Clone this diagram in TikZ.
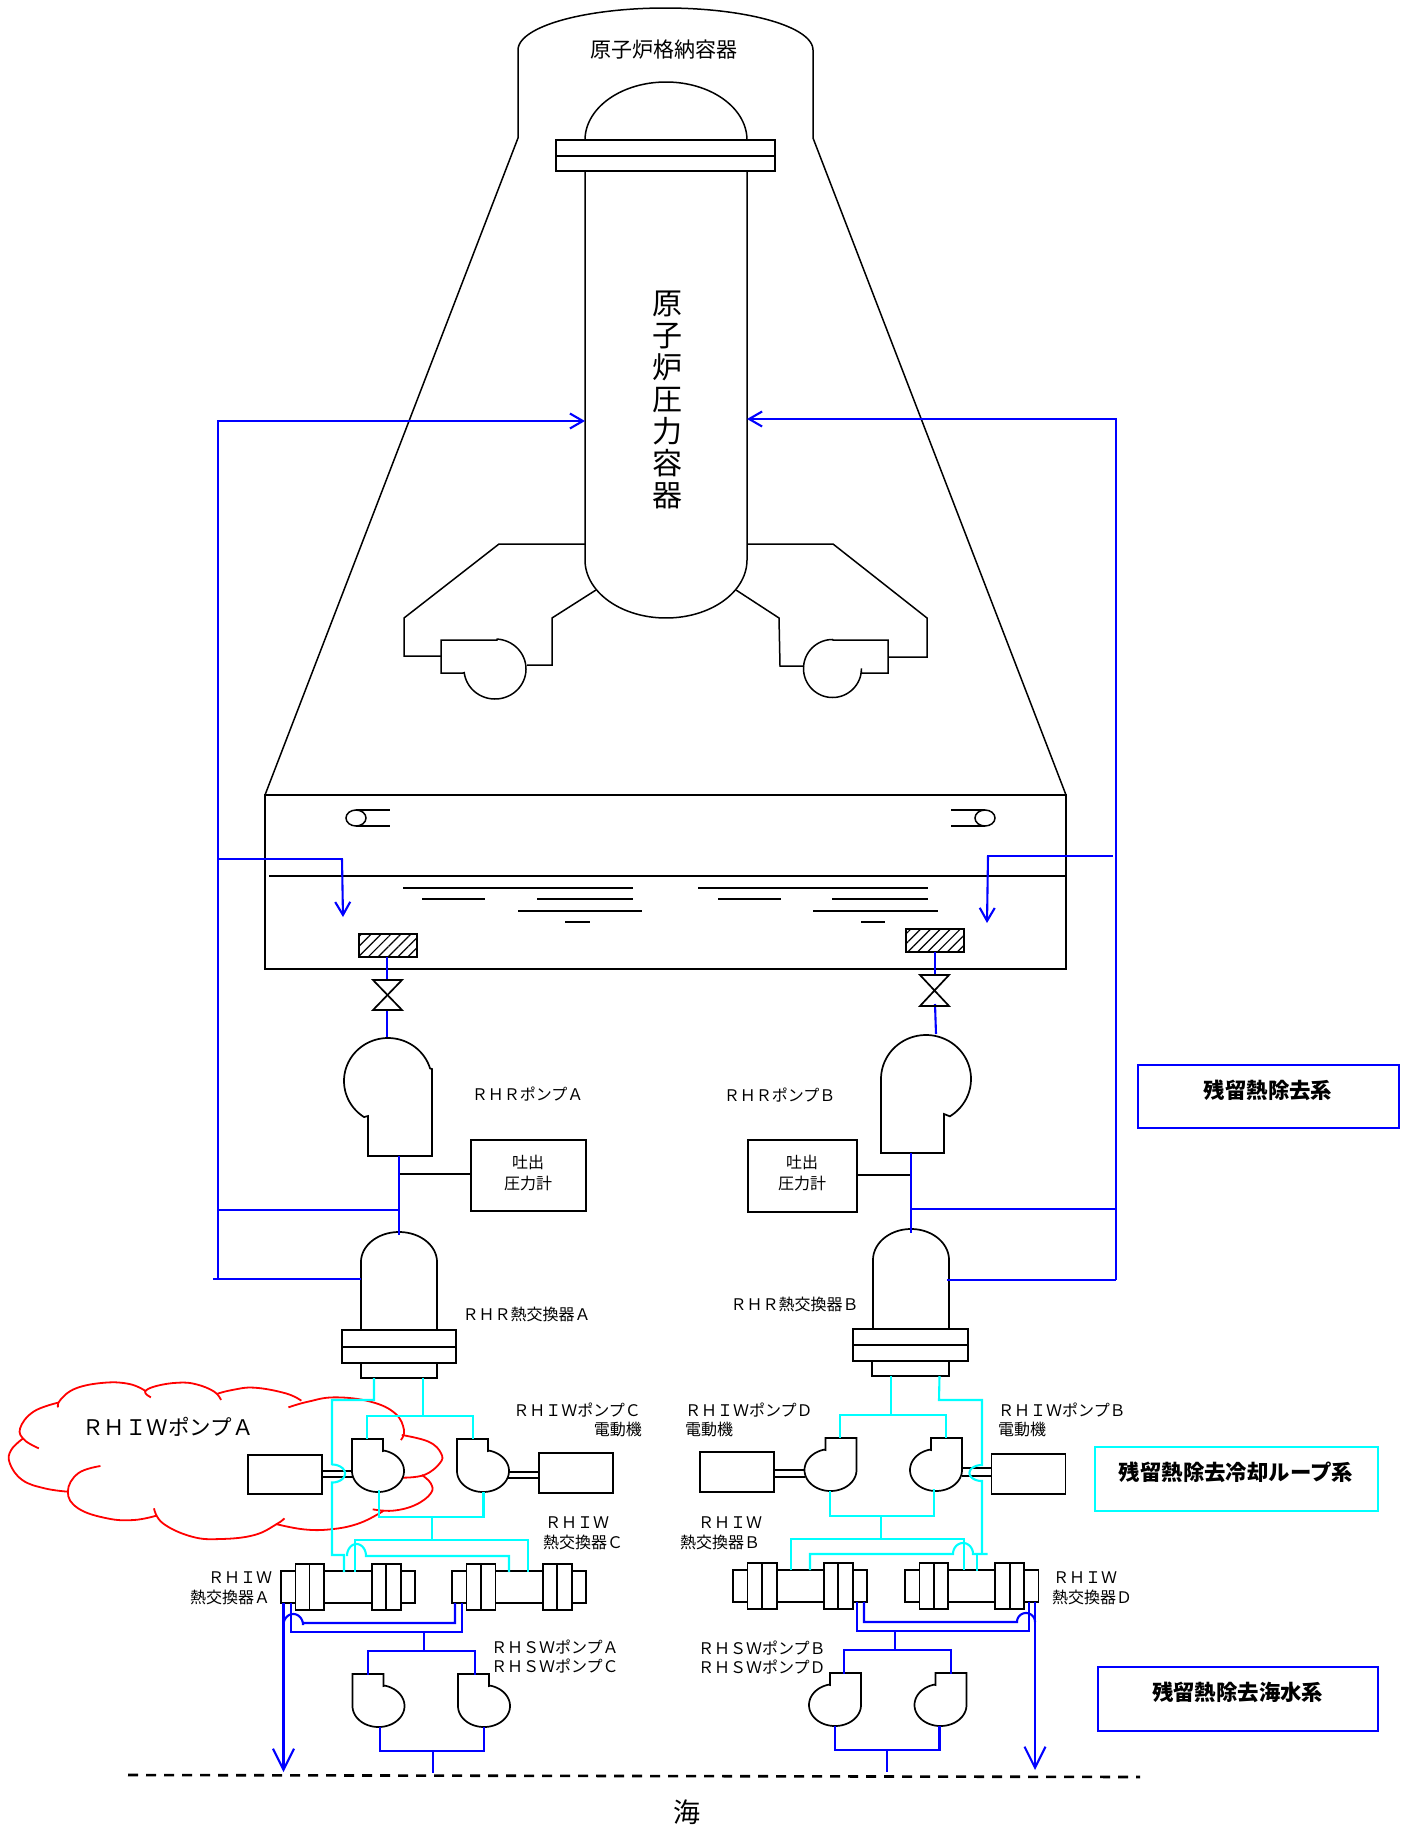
\documentclass[tikz,border=0pt]{standalone}
\usepackage{fontspec}
\setmainfont{Noto Sans CJK JP}
\usetikzlibrary{arrows.meta,patterns.meta}
\definecolor{pipeblue}{RGB}{0,0,255}
\definecolor{pipecyan}{RGB}{0,255,255}
\definecolor{cloudred}{RGB}{255,0,0}
\tikzset{
  blk/.style={draw=black,line width=1.7pt,line join=miter},
  thinblk/.style={draw=black,line width=1.5pt},
  bl/.style={draw=pipeblue,line width=2.1pt},
  cy/.style={draw=pipecyan,line width=2.1pt},
  cloudline/.style={draw=cloudred,line width=1.8pt},
  lbl/.style={inner sep=0pt,font=\fontsize{16}{18}\selectfont},
  lgd/.style={inner sep=0pt,font=\fontsize{21.4}{24}\selectfont\bfseries},
  boxnode/.style={draw=black,line width=1.7pt,inner sep=0pt,fill=white,align=center},
  tip1/.style={-{Straight Barb[length=13pt,width=15pt,line width=2.1pt]}},
  tip2/.style={-{Straight Barb[length=21pt,width=21pt,line width=2.1pt]}},
  % elliptical arcs, angles in picture convention (y grows downward)
  earc/.style n args={6}{insert path={-- plot[domain=#5:#6,samples=70,variable=\t] ({#1+#3*cos(\t)},{#2+#4*sin(\t)})}},
  earcstart/.style n args={6}{insert path={plot[domain=#5:#6,samples=70,variable=\t] ({#1+#3*cos(\t)},{#2+#4*sin(\t)})}},
}
% pump whose outlet rises on the left of the casing
\newcommand\pumpL[2]{\draw[blk] ({#1-26},{#2-32}) -- ({#1+5},{#2-32}) -- ({#1+5},{#2-20}) [earc={#1}{#2}{26}{21}{-76}{180}] -- cycle;}
% pump whose outlet rises on the right of the casing
\newcommand\pumpR[2]{\draw[blk] ({#1+26},{#2-32}) -- ({#1-5},{#2-32}) -- ({#1-5},{#2-20}) [earc={#1}{#2}{26}{21}{256}{0}] -- cycle;}
% heat exchanger: body l r t b, flanges
\newcommand\hex[9]{%
  \draw[blk] (#1,#3) rectangle (#2,#4);
  \draw[blk,fill=white] (#5,{#3-7}) rectangle (#7,{#4+7});
  \draw[blk] (#6,{#3-7}) -- (#6,{#4+7});
  \draw[blk,fill=white] (#8,{#3-7}) rectangle ({#8+29},{#4+7});
  \draw[blk] (#9,{#3-7}) -- (#9,{#4+7});}
\begin{document}
\begin{tikzpicture}[x=1pt,y=-1pt]
\useasboundingbox (0,0) rectangle (1407,1830);

% ---------- containment ----------
\draw[thinblk] (265,795) -- (518,138) -- (518,50) [earc={665.5}{50}{147.5}{42}{180}{360}] -- (813,138) -- (1066,795);
\draw[blk] (265,795) rectangle (1066,969);
\draw[blk] (269,876) -- (1066,876);
\foreach \a/\b/\c in {403/633/888,422/485/899,537/633/899,518/642/911,565/590/922,
                      698/928/888,718/781/899,832/928/899,813/938/911,861/885/922}
  \draw[thinblk] (\a,\c) -- (\b,\c);
\draw[thinblk] (356,818) ellipse [x radius=10pt,y radius=8pt];
\draw[thinblk] (356,810) -- (390,810) (356,826) -- (390,826);
\draw[thinblk] (985,818) ellipse [x radius=10pt,y radius=8pt];
\draw[thinblk] (951,810) -- (985,810) (951,826) -- (985,826);

% ---------- reactor vessel ----------
\draw[thinblk] [earcstart={666}{140}{81}{58}{180}{360}];
\draw[thinblk] (585,171) -- (585,560) [earc={666}{560}{81}{58}{180}{0}] -- (747,171);
\draw[thinblk] (556,140) rectangle (775,171);
\draw[thinblk] (556,156) -- (775,156);
\node[inner sep=0pt,font=\fontsize{21}{24}\selectfont] (pcvlabel) at (664,50) {原子炉格納容器};
\node[inner sep=0pt,align=center,font=\fontsize{30}{32}\selectfont] (rpvlabel) at (667,400) {原\\子\\炉\\圧\\力\\容\\器};

% recirculation loops
\draw[thinblk] (585,544) -- (499,544) -- (404,618) -- (404,656) -- (441,656);
\draw[thinblk] (596,590) -- (552,618) -- (552,665) -- (527,665);
\draw[thinblk] (441,640) -- (497,640) [earc={495}{669}{31}{30}{-86}{173}] -- (463,673) -- (441,673) -- cycle;
\draw[thinblk] (747,544) -- (833,544) -- (927,618) -- (927,657) -- (888,657);
\draw[thinblk] (736,590) -- (779,618) -- (780,666) -- (804,666);
\draw[thinblk] (888,640) -- (833,640) [earc={832.5}{668.5}{29}{29}{-90}{-360}] -- (861,673) -- (888,673) -- cycle;

% ---------- strainers and valves ----------
\draw[blk,pattern={Lines[angle=45,distance=7pt,line width=1.2pt]}] (359,934) rectangle (417,957);
\draw[blk,pattern={Lines[angle=45,distance=7pt,line width=1.2pt]}] (906,929) rectangle (964,952);
\draw[bl] (387,957) -- (387,981);
\draw[bl] (387,1009) -- (387,1038);
\draw[bl] (935,952) -- (935,976);
\draw[bl] (935,1004) -- (936,1034);
\draw[blk] (373,980) -- (402,980) -- (373,1010) -- (402,1010) -- cycle;
\draw[blk] (920,975) -- (949,975) -- (920,1006) -- (949,1006) -- cycle;

% ---------- RHR pumps ----------
\draw[blk] (432,1156) -- (432,1069) [earc={388}{1081}{44}{43}{-17}{-237}] -- (368,1116) -- (368,1156) -- cycle;
\draw[blk] (881,1153) -- (881,1083) [earc={926}{1079}{45}{44}{-180}{58}] -- (944,1114) -- (944,1153) -- cycle;

% ---------- gauges ----------
\node[boxnode,minimum width=115pt,minimum height=71pt] (gaugeA) at (528.5,1175.5) {};
\node[boxnode,minimum width=109pt,minimum height=72pt] (gaugeB) at (802.5,1176) {};
\node[inner sep=0pt,align=center,font=\fontsize{16}{20.5}\selectfont] (gaugeAt) at (528,1173) {吐出\\圧力計};
\node[inner sep=0pt,align=center,font=\fontsize{16}{20.5}\selectfont] (gaugeBt) at (802,1173) {吐出\\圧力計};
\coordinate (tapA) at (399,1174);
\coordinate (tapB) at (911,1175);
\draw[blk] (tapA) -- (gaugeA.west |- tapA);
\draw[blk] (tapB) -- (gaugeB.east |- tapB);

% ---------- RHR heat exchangers ----------
\draw[blk] (361,1330) -- (361,1262) [earc={399}{1262}{38}{30}{180}{360}] -- (437,1330);
\draw[blk] (342,1330) rectangle (456,1363);
\draw[blk] (342,1347) -- (456,1347);
\draw[blk] (361,1363) rectangle (437,1378);
\draw[blk] (873,1329) -- (873,1260) [earc={911}{1260}{38}{31}{180}{360}] -- (949,1329);
\draw[blk] (853,1329) rectangle (968,1361);
\draw[blk] (853,1345) -- (968,1345);
\draw[blk] (872,1361) rectangle (949,1376);

% ---------- main blue RHR lines ----------
\coordinate (rpvL) at (585,421);
\coordinate (rpvR) at (747,419);
\draw[bl,tip1] (218,1279) -- (218,421) -- (rpvL);
\draw[bl] (213,1279) -- (361,1279);
\draw[bl] (218,859) -- (343,859);
\draw[bl,tip1] (342,859) -- (343,917);
\draw[bl] (218,1210) -- (399,1210);
\draw[bl] (399,1156) -- (399,1235);
\draw[bl,tip1] (1116,1280) -- (1116,419) -- (rpvR);
\draw[bl] (947,1280) -- (1116,1280);
\draw[bl] (1113,856) -- (987,856);
\draw[bl,tip1] (988,856) -- (987,923);
\draw[bl] (911,1209) -- (1117,1209);
\draw[bl] (911,1153) -- (911,1233);

% ---------- cloud ----------
\begin{scope}[x=0.44643pt,y=-0.33333pt,yshift=-1350pt]
\draw[cloudline] plot[smooth,tension=.7] coordinates {(130,158)(75,185)(45,235)(55,270)(87,295)};
\draw[cloudline] plot[smooth,tension=.7] coordinates {(52,265)(25,300)(22,340)(50,390)(100,415)(152,425)};
\draw[cloudline] plot[smooth,tension=.7] coordinates {(225,348)(175,370)(152,425)(175,475)(240,505)(300,510)(350,497)};
\draw[cloudline] plot[smooth,tension=.7] coordinates {(345,475)(365,520)(430,560)(495,567)(570,555)(620,522)(637,505)};
\draw[cloudline] plot[smooth,tension=.7] coordinates {(618,522)(680,538)(740,538)(800,522)(850,490)(858,480)};
\draw[cloudline] plot[smooth,tension=.7] coordinates {(835,478)(880,482)(930,465)(965,430)(965,400)(945,375)};
\draw[cloudline] plot[smooth,tension=.7] coordinates {(902,383)(950,375)(985,340)(988,310)(960,275)(900,255)};
\draw[cloudline] plot[smooth,tension=.7] coordinates {(898,270)(905,240)(885,190)(830,155)(750,142)(690,155)(646,172)};
\draw[cloudline] plot[smooth,tension=.7] coordinates {(675,152)(640,130)(570,113)(520,120)(485,132)};
\draw[cloudline] plot[smooth,tension=.7] coordinates {(495,150)(480,125)(440,103)(400,98)(350,108)(325,125)(338,142)};
\draw[cloudline] plot[smooth,tension=.7] coordinates {(325,122)(290,102)(235,98)(170,115)(135,150)(130,172)};
\end{scope}

% ---------- RHIW motors and shafts ----------
\node[boxnode,fill=none,minimum width=74pt,minimum height=39pt] (motorA) at (285,1474.5) {};
\node[boxnode,fill=none,minimum width=74pt,minimum height=40pt] (motorC) at (576,1473) {};
\node[boxnode,fill=none,minimum width=74pt,minimum height=40pt] (motorD) at (737,1472) {};
\node[boxnode,fill=none,minimum width=74pt,minimum height=40pt] (motorB) at (1028.5,1474) {};
\draw[blk] (322,1471) -- (353,1471) (322,1477) -- (353,1477);
\draw[blk] (508,1472) -- (539,1472) (508,1478) -- (539,1478);
\draw[blk] (774,1470) -- (805,1470) (774,1477) -- (805,1477);
\draw[blk] (962,1468) -- (991,1468) (962,1476) -- (991,1476);

% ---------- pumps ----------
\pumpL{378}{1471}
\pumpL{483}{1471}
\pumpR{830.5}{1470}
\pumpR{936}{1470}
\pumpL{378.5}{1706}
\pumpL{484}{1706}
\pumpR{835}{1705}
\pumpR{940.5}{1705}

% ---------- RHIW heat exchangers ----------
\hex{281}{415}{1571}{1603}{295.5}{309.5}{324}{372}{386}
\hex{452}{586}{1571}{1603}{466.5}{481}{495.5}{543}{557}
\hex{733}{867}{1570}{1602}{747.6}{762}{776.7}{824}{838}
\hex{905}{1038.6}{1570}{1602}{919.5}{934}{948}{995}{1010}

% ---------- cyan A/C side ----------
\draw[cy] (374,1378) -- (374,1400) -- (332,1400) -- (332,1465) [earc={332}{1473.5}{13}{9}{-90}{90}] -- (332,1555) -- (344,1555) -- (344,1572);
\draw[cy] (423,1378) -- (423,1416);
\draw[cy] (367,1439) -- (367,1416) -- (473,1416) -- (473,1439);
\draw[cy] (379,1490) -- (379,1517) -- (483.5,1517) -- (483.5,1492);
\draw[cy] (432,1517) -- (432,1540);
\draw[cy] (355,1572) -- (355,1540) -- (528,1540) -- (528,1572);
\draw[cy] (347,1556) [earc={356.5}{1556}{9.5}{12}{180}{360}] -- (509,1556) -- (509,1572);

% ---------- cyan B/D side ----------
\draw[cy] (891,1376) -- (891,1415);
\draw[cy] (840,1438) -- (840,1415) -- (946,1415) -- (946,1438);
\draw[cy] (939.5,1376) -- (939,1400) -- (982,1400) -- (982,1465) [earc={982}{1473}{12.5}{8}{-90}{-270}] -- (982,1554);
\draw[cy] (987.6,1554) -- (973,1554) [earc={963}{1554}{10}{11}{0}{-180}] -- (810,1554) -- (810,1570);
\draw[cy] (976.7,1554) -- (976.7,1571);
\draw[cy] (830,1491) -- (830,1516) -- (934,1516) -- (934,1489);
\draw[cy] (881.4,1516) -- (881.4,1539);
\draw[cy] (791.4,1570) -- (791.4,1539) -- (964,1539) -- (964,1570);

% ---------- sea water blue A/C ----------
\draw[bl,tip2] (283.5,1603) -- (283.5,1772);
\draw[bl] (291,1603) -- (291,1632) -- (462,1632) -- (462,1603);
\draw[bl] (455,1603) -- (455,1623) -- (303,1623) [earc={293.25}{1625}{9.75}{11}{0}{-180}];
\draw[bl] (424,1632) -- (424,1651);
\draw[bl] (368,1675) -- (368,1651) -- (474.6,1651) -- (474.6,1675);
\draw[bl] (380,1727) -- (380,1751) -- (484,1751) -- (484,1727);
\draw[bl] (432.6,1751) -- (432.6,1773);

% ---------- sea water blue B/D ----------
\draw[bl,tip2] (1035,1602) -- (1035,1770);
\draw[bl] (856.7,1602) -- (856.7,1631) -- (1029,1631) -- (1029,1602);
\draw[bl] (864,1602) -- (864,1622) -- (1017,1622) [earc={1026}{1622}{9}{9}{180}{360}];
\draw[bl] (895,1631) -- (895,1650);
\draw[bl] (844,1674) -- (844,1650) -- (951,1650) -- (951,1674);
\draw[bl] (835,1726) -- (835,1750) -- (939.5,1750) -- (939.5,1726);
\draw[bl] (886.7,1750) -- (886.7,1772);

% ---------- sea line ----------
\draw[draw=black,line width=2.6pt,dash pattern=on 10pt off 8pt] (128,1775) -- (1140,1777);
\node[inner sep=0pt,font=\fontsize{27}{30}\selectfont] (sea) at (687,1812) {海};

% ---------- legend ----------
\node[draw=pipeblue,line width=2.1pt,minimum width=261pt,minimum height=63pt,inner sep=0pt] (lg1) at (1268.5,1096.5) {};
\node[lgd] (lg1t) at (1268,1090) {残留熱除去系};
\node[draw=pipecyan,line width=2.1pt,minimum width=283pt,minimum height=64pt,inner sep=0pt] (lg2) at (1236.3,1479) {};
\node[lgd] (lg2t) at (1236,1472) {残留熱除去冷却ループ系};
\node[draw=pipeblue,line width=2.1pt,minimum width=280pt,minimum height=64pt,inner sep=0pt] (lg3) at (1237.8,1699) {};
\node[lgd] (lg3t) at (1237.6,1692) {残留熱除去海水系};

% ---------- labels ----------
\node[inner sep=0pt,font=\fontsize{21.5}{24}\selectfont] (cloudt) at (168,1427) {ＲＨＩＷポンプＡ};
\node[lbl] (l1) at (527.6,1094) {ＲＨＲポンプＡ};
\node[lbl] (l2) at (779.6,1095) {ＲＨＲポンプＢ};
\node[lbl] (l3) at (526.5,1314) {ＲＨＲ熱交換器Ａ};
\node[lbl] (l4) at (794.5,1304) {ＲＨＲ熱交換器Ｂ};
\node[lbl,anchor=east] (l5) at (641,1410) {ＲＨＩＷポンプＣ};
\node[lbl,anchor=east] (l6) at (642,1429) {電動機};
\node[lbl,anchor=west] (l7) at (685,1410) {ＲＨＩＷポンプＤ};
\node[lbl,anchor=west] (l8) at (685,1429) {電動機};
\node[lbl,anchor=west] (l9) at (998,1410) {ＲＨＩＷポンプＢ};
\node[lbl,anchor=west] (l10) at (998,1429) {電動機};
\node[lbl,anchor=west] (l11) at (545,1523) {ＲＨＩＷ};
\node[lbl,anchor=west] (l12) at (543,1542) {熱交換器Ｃ};
\node[lbl,anchor=west] (l13) at (208,1578) {ＲＨＩＷ};
\node[lbl,anchor=west] (l14) at (190,1597) {熱交換器Ａ};
\node[lbl,anchor=west] (l15) at (698,1523) {ＲＨＩＷ};
\node[lbl,anchor=west] (l16) at (680,1542) {熱交換器Ｂ};
\node[lbl,anchor=west] (l17) at (1053,1578) {ＲＨＩＷ};
\node[lbl,anchor=west] (l18) at (1052,1597) {熱交換器Ｄ};
\node[lbl,anchor=west] (l19) at (491,1647) {ＲＨＳＷポンプＡ};
\node[lbl,anchor=west] (l20) at (491,1666) {ＲＨＳＷポンプＣ};
\node[lbl,anchor=west] (l21) at (698,1648) {ＲＨＳＷポンプＢ};
\node[lbl,anchor=west] (l22) at (698,1667) {ＲＨＳＷポンプＤ};
\end{tikzpicture}
\end{document}
